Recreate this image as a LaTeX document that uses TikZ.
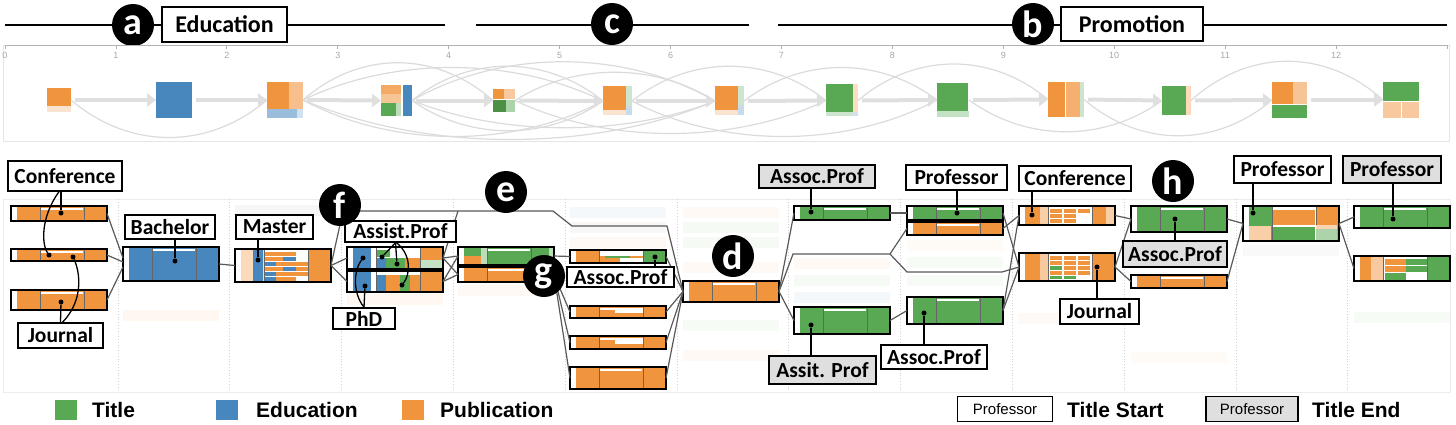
\documentclass[tikz,border=0pt]{standalone}
\usepackage{fontspec}
\newfontfamily\calfont{Carlito}
\newfontfamily\arialfont{Liberation Sans}
\usetikzlibrary{positioning, arrows.meta, calc}

\definecolor{tgreen}{RGB}{89,168,84}
\definecolor{tblue}{RGB}{72,135,190}
\definecolor{torange}{RGB}{241,148,62}

\tikzset{
  seqbox/.style={draw=black, line width=1.8pt, fill=white, minimum width=96pt, inner sep=0pt, outer sep=0pt, anchor=north west},
  seqframe/.style={draw=black, line width=1.8pt},
  seqline/.style={draw=black!60, line width=0.6pt},
  conn/.style={draw=black!65, line width=1.2pt},
  callout/.style={draw=black, line width=1.4pt, fill=white, inner sep=0pt, font=\calfont\bfseries\fontsize{21.5}{21.5}\selectfont},
  endcall/.style={callout, fill=gray!25},
  pointer/.style={draw=black, line width=1.3pt},
  dot/.style={circle, fill=black, inner sep=0pt, minimum size=5pt},
  letter/.style={circle, fill=black, text=white, minimum size=42pt, inner sep=0pt, font=\calfont\bfseries\fontsize{38}{38}\selectfont},
  ovbox/.style={inner sep=0pt, outer sep=0pt},
  ovarrow/.style={draw=gray!25, line width=4pt, shorten <=4pt, -{Triangle[length=9pt,width=13pt]}},
  ovcurve/.style={draw=gray!28, line width=1.2pt},
  ticklab/.style={font=\arialfont\fontsize{9}{9}\selectfont, text=gray!70},
  colsep/.style={draw=gray!35, dotted, line width=0.8pt},
  legtext/.style={anchor=west, inner sep=0pt, font=\arialfont\bfseries\fontsize{21}{21}\selectfont},
  legbox/.style={draw=black, line width=1.6pt, fill=white, inner sep=0pt, font=\arialfont\fontsize{15}{15}\selectfont},
}

% one row of the sequence view: name, x, y, height, left/middle/right colour
\newcommand{\seqnode}[7]{%
  \node[seqbox, minimum height=#4pt] (#1) at (#2,#3) {};
  \fill[#5] ([xshift=6pt]#1.north west) rectangle ([xshift=29pt]#1.south west);
  \fill[#6] ([xshift=29pt]#1.north west) rectangle ([xshift=-23pt]#1.south east);
  \fill[#7] ([xshift=-23pt]#1.north east) rectangle (#1.south east);
  \fill[white] ([xshift=30pt,yshift=-2pt]#1.north west) rectangle ([xshift=-24pt,yshift=-4pt]#1.north east);
  \draw[seqline] ([xshift=29pt]#1.north west) -- ([xshift=29pt]#1.south west)
                 ([xshift=-23pt]#1.north east) -- ([xshift=-23pt]#1.south east);
  \draw[seqframe] (#1.north west) rectangle (#1.south east);
}
\newcommand{\reframe}[1]{\draw[seqframe] (#1.north west) rectangle (#1.south east);}

\begin{document}
\begin{tikzpicture}[x=1pt, y=-1pt]
\useasboundingbox (0,0) rectangle (1456,424);

% top brackets
\coordinate (a0) at (5,25);    \coordinate (a1) at (445,25);
\coordinate (c0) at (476,25);  \coordinate (c1) at (749,25);
\coordinate (b0) at (778,25);  \coordinate (b1) at (1447,25);
\draw[line width=1.8pt] (a0) -- (a1) (c0) -- (c1) (b0) -- (b1);
\node[letter] (la) at (133,25) {a};
\node[callout, minimum width=125pt, minimum height=35pt, font=\calfont\bfseries\fontsize{24}{24}\selectfont] (edu) at (224.5,24.5) {Education};
\node[letter] (lc) at (612,24) {c};
\node[letter] (lb) at (1033,24) {b};
\node[callout, minimum width=142pt, minimum height=34pt, font=\calfont\bfseries\fontsize{24}{24}\selectfont] (promo) at (1132,24) {Promotion};

% time axis
\draw[gray!20, line width=1pt] (3,45) rectangle (1449,141);
\draw[gray!60, line width=1pt] (5,45) -- (1447,45);
\foreach \i in {0,...,13}
  \draw[gray!60, line width=0.8pt] (5+110.92*\i,45) -- ++(0,4);
\foreach \i in {0,...,12}
  \node[ticklab] at (5+110.92*\i,55) {\i};

% overview nodes
\node[ovbox, minimum width=24pt, minimum height=24pt] (ov1) at (59,100) {};
\fill[torange] (47,88) rectangle (71,106);
\fill[torange!25] (47,106) rectangle (71,112);
\node[ovbox, minimum width=36pt, minimum height=36pt] (ov2) at (174,100) {};
\fill[tblue] (156,82) rectangle (192,118);
\node[ovbox, minimum width=36pt, minimum height=36pt] (ov3) at (285,100) {};
\fill[torange] (267,82) rectangle (289,109);
\fill[torange!60] (289,82) rectangle (303,109);
\fill[tblue!55] (267,109) rectangle (297,118);
\fill[tblue!25] (297,109) rectangle (303,118);
\node[ovbox, minimum width=31pt, minimum height=31pt] (ov4) at (396.5,100.5) {};
\fill[torange!80] (381,85) rectangle (401,94);
\fill[torange!55] (381,94) rectangle (401,103);
\fill[tgreen] (381,103) rectangle (396,116);
\fill[tgreen!40] (396,103) rectangle (401,116);
\fill[tblue] (403,85) rectangle (412,116);
\node[ovbox, minimum width=22pt, minimum height=23pt] (ov5) at (504,100.5) {};
\fill[torange] (493,89) rectangle (504,99);
\fill[torange!50] (504,89) rectangle (515,99);
\fill[tgreen!85!black] (493,100) rectangle (506,112);
\fill[tgreen!50] (506,100) rectangle (515,112);
\node[ovbox, minimum width=29pt, minimum height=30pt] (ov6) at (617.5,101) {};
\fill[torange] (603,86) rectangle (626,110);
\fill[torange!25] (603,110) rectangle (626,115);
\fill[tgreen!30] (626,86) rectangle (632,106);
\fill[tblue!30] (626,106) rectangle (632,115);
\node[ovbox, minimum width=29pt, minimum height=30pt] (ov7) at (729.5,101) {};
\fill[torange] (715,86) rectangle (738,110);
\fill[torange!25] (715,110) rectangle (738,115);
\fill[tgreen!30] (738,86) rectangle (744,105);
\fill[tblue!30] (738,105) rectangle (744,115);
\node[ovbox, minimum width=32pt, minimum height=33pt] (ov8) at (842,100.5) {};
\fill[tgreen] (826,84) rectangle (853,112);
\fill[torange!30] (853,84) rectangle (858,112);
\fill[tgreen!30] (826,112) rectangle (853,116);
\fill[tblue!25] (853,112) rectangle (858,116);
\node[ovbox, minimum width=32pt, minimum height=34pt] (ov9) at (953,100) {};
\fill[tgreen] (937,83) rectangle (968,111);
\fill[tgreen!35] (937,111) rectangle (969,117);
\node[ovbox, minimum width=36pt, minimum height=35pt] (ov10) at (1066,99.5) {};
\fill[torange] (1048,82) rectangle (1065,117);
\fill[torange!75] (1065.5,82) rectangle (1080,117);
\fill[tgreen!30] (1080,82) rectangle (1084,117);
\node[ovbox, minimum width=29pt, minimum height=29pt] (ov11) at (1176.5,100.5) {};
\fill[tgreen] (1162,86) rectangle (1186,115);
\fill[torange!35] (1186,86) rectangle (1191,115);
\node[ovbox, minimum width=35pt, minimum height=36pt] (ov12) at (1289.5,100) {};
\fill[torange] (1272,82) rectangle (1293,104);
\fill[torange!55] (1293,82) rectangle (1307,104);
\fill[tgreen] (1272,105) rectangle (1307,118);
\node[ovbox, minimum width=36pt, minimum height=36pt] (ov13) at (1401,100) {};
\fill[tgreen] (1383,82) rectangle (1419,101);
\fill[torange!50] (1383,102) rectangle (1400.5,118);
\fill[torange!50] (1401.5,102) rectangle (1419,118);

% overview flows
\foreach \s/\t/\h in {1/3/50, 3/5/-50, 3/6/-44, 3/6/48, 3/7/52, 4/6/-46, 4/7/-52,
                      4/6/40, 4/7/36, 5/7/-38, 5/8/44, 6/8/-46, 6/9/48, 7/9/-44,
                      8/10/-48, 9/11/42, 10/12/48, 11/13/-52}
  \draw[ovcurve] (ov\s.east) .. controls ($(ov\s.east)!0.3!(ov\t.west)+(0,\h)$)
                             and ($(ov\s.east)!0.7!(ov\t.west)+(0,\h)$) .. (ov\t.west);
\foreach \i [evaluate=\i as \j using int(\i+1)] in {1,...,12}
  \draw[ovarrow] (ov\i.east) -- (ov\j.west);

% sequence view panel
\draw[gray!15, line width=1pt] (3,199) rectangle (1450,392);
\foreach \k in {0,...,11}
  \draw[colsep] (118+111.8*\k,199) -- (118+111.8*\k,392);

% faded rows
\foreach \x/\y/\c in {123/310/torange!7, 235/205/gray!7, 347/294/torange!7,
                      458/285/torange!6, 570/207/tblue!6, 570/222/gray!6, 570/237/torange!6,
                      683/207/torange!6, 683/222/tgreen!6, 683/237/tgreen!6, 683/262/torange!6,
                      683/320/tgreen!5, 683/350/torange!6, 794/258/torange!6, 794/275/tgreen!6,
                      794/292/tblue!6, 907/240/torange!5, 907/257/tgreen!5, 907/275/tgreen!5,
                      1019/313/torange!6, 1131/352/torange!5, 1243/245/gray!5, 1354/312/tgreen!5}
  \fill[\c] (\x,\y) rectangle ++(96,11);

% rows
\seqnode{jc1}{11}{206}{15}{torange}{torange}{torange}
\seqnode{jc2}{11}{249}{12}{torange}{torange}{torange}
\seqnode{jc3}{11}{290}{20}{torange}{torange}{torange}
\seqnode{bach}{123}{247}{34}{tblue}{tblue}{tblue}
\seqnode{mast}{235}{249}{33}{torange!35}{white}{torange}
\fill[tblue] (253,249.9) rectangle (263,281.1);
\fill[torange] (264.5,252) rectangle (296,256);
\fill[torange] (264.5,257) rectangle (283,261); \fill[tblue] (283,257) rectangle (296,261);
\fill[tblue] (264.5,262) rectangle (276,266);   \fill[torange] (276,262) rectangle (307.5,266);
\fill[torange] (264.5,267) rectangle (283,271); \fill[tblue] (283,267) rectangle (296,271); \fill[torange] (296,267) rectangle (307.5,271);
\fill[tblue] (264.5,272) rectangle (276,276);   \fill[torange] (276,272) rectangle (307.5,276);
\fill[tblue] (264.5,277) rectangle (276,281);   \fill[torange] (276,277) rectangle (296,281);
\reframe{mast}
\seqnode{ap1}{347}{247}{22}{tblue}{white}{torange}
\fill[white] (371,248) rectangle (375.5,268);
\fill[tgreen] (376.5,250) rectangle (390,257);
\fill[tblue] (376.5,258) rectangle (386,268);
\fill[tgreen] (386,258) rectangle (405,268);
\fill[torange] (405,258) rectangle (419.5,268);
\fill[tgreen!35] (420.5,260) rectangle (442,268);
\reframe{ap1}
\seqnode{ap2}{347}{271}{21}{tblue}{white}{torange}
\fill[white] (371,272) rectangle (375.5,291);
\fill[tblue] (376.5,275) rectangle (386,291);
\fill[torange] (386,275) rectangle (400,291);
\fill[tgreen] (400,275) rectangle (410,291);
\fill[torange] (410,275) rectangle (419.5,291);
\reframe{ap2}
\seqnode{sa}{458}{247}{18}{tgreen}{tgreen}{tgreen}
\fill[torange] (464,256) rectangle (481,265);
\fill[tgreen!40] (481,247) rectangle (486.5,265);
\fill[tgreen!40] (549,247) rectangle (553,265);
\reframe{sa}
\seqnode{sb}{458}{267}{15}{torange}{torange}{torange}
\seqnode{ga}{570}{250}{13}{torange}{torange}{tgreen}
\fill[white] (599.5,251) rectangle (642.5,256);
\fill[tgreen] (605,256) rectangle (630,258);
\fill[white] (620,258) rectangle (642.5,262);
\reframe{ga}
\seqnode{gb}{570}{306}{12}{torange}{torange}{torange}
\fill[white] (615,308) rectangle (642.5,313);
\reframe{gb}
\seqnode{gc}{570}{336}{13}{torange}{torange}{torange}
\fill[white] (615,338) rectangle (642.5,344);
\reframe{gc}
\seqnode{gd}{570}{367}{22}{torange}{torange}{torange}
\seqnode{dd}{683}{281}{21}{torange}{torange}{torange}
\seqnode{asc}{794}{206}{14}{tgreen}{tgreen}{tgreen}
\seqnode{ast}{794}{307}{27}{tgreen}{tgreen}{tgreen}
\seqnode{pa}{907}{206}{14}{tgreen}{tgreen}{tgreen}
\seqnode{pb}{907}{222}{13}{torange}{torange}{torange}
\seqnode{pc}{907}{297}{27}{tgreen}{tgreen}{tgreen}
\seqnode{cf}{1019}{206}{19}{torange}{white}{torange}
\fill[torange!45] (1040,207) rectangle (1047.5,224);
\foreach \y in {209,214,219} {
  \fill[torange] (1050,\y) rectangle (1062,\y+4);
  \fill[torange] (1064,\y) rectangle (1076,\y+4);
}
\fill[torange] (1078,209) rectangle (1090,213);
\fill[torange!45] (1106,207) rectangle (1114,224);
\reframe{cf}
\seqnode{jn}{1019}{253}{28}{torange}{white}{torange}
\fill[torange!50] (1040,254) rectangle (1047.5,280);
\foreach \y in {256,261,266,271} {
  \fill[torange] (1050,\y) rectangle (1062,\y+4);
  \fill[torange] (1064,\y) rectangle (1076,\y+4);
  \fill[torange] (1078,\y) rectangle (1090,\y+4);
}
\fill[tgreen] (1050,266) rectangle (1062,270);
\fill[tgreen] (1064,276) rectangle (1076,279);
\fill[tgreen] (1050,276) rectangle (1062,279);
\reframe{jn}
\seqnode{ha}{1131}{206}{26}{tgreen}{tgreen}{tgreen}
\seqnode{hb}{1131}{275}{13}{torange}{torange}{torange}
\seqnode{pr}{1243}{206}{35}{tgreen}{white}{torange}
\fill[torange!45] (1249,226) rectangle (1271,240);
\fill[torange] (1272.5,210) rectangle (1314.5,225);
\fill[tgreen] (1272.5,227) rectangle (1314.5,240);
\fill[torange!40] (1316,225) rectangle (1337,229);
\fill[tgreen!50] (1316,229) rectangle (1337,240);
\reframe{pr}
\seqnode{ea}{1354}{206}{22}{tgreen}{tgreen}{tgreen}
\seqnode{eb}{1354}{256}{25}{torange}{white}{tgreen}
\fill[torange!50] (1371,257) rectangle (1382.5,280);
\fill[torange] (1384.5,259) rectangle (1406,265); \fill[tgreen] (1406,259) rectangle (1426.5,265);
\fill[torange] (1384.5,266) rectangle (1406,272); \fill[tgreen] (1406,266) rectangle (1426.5,272);
\fill[tgreen] (1384.5,273) rectangle (1406,280);
\reframe{eb}

% links
\coordinate (split) at (890,254);
\draw[conn] (mast.east) -- (343,211) -- (553,211) -- (572,226) -- (667,226) -- (dd.west);
\draw[conn] (ap1.east) -- (458,211);
\draw[conn] (dd.east) -- (793,254) -- (split) -- (pb.west);
\draw[conn] (split) -- (907,272) -- (1002,272) -- (jn.west);
\draw[conn] (jc1.east) -- ([yshift=6pt]bach.west);
\draw[conn] (jc2.east) -- ([yshift=2pt]bach.west);
\draw[conn] (jc3.east) -- ([yshift=-3pt]bach.west);
\draw[conn] (bach.east) -- (mast.west);
\draw[conn] (mast.east) -- (ap1.west);
\draw[conn] (mast.east) -- (ap2.west);
\draw[conn] (ap1.east) -- (sa.west);
\draw[conn] (ap1.east) -- (sb.west);
\draw[conn] (ap2.east) -- (sa.west);
\draw[conn] (ap2.east) -- (sb.west);
\draw[conn] (sa.east) -- (ga.west);
\draw[conn] (sb.east) -- (gb.west);
\draw[conn] (sb.east) -- (gc.west);
\draw[conn] (sb.east) -- (gd.west);
\draw[conn] (ga.east) -- (dd.west);
\draw[conn] (gb.east) -- (dd.west);
\draw[conn] (gc.east) -- (dd.west);
\draw[conn] (gd.east) -- (dd.west);
\draw[conn] (dd.east) -- (asc.west);
\draw[conn] (dd.east) -- (ast.west);
\draw[conn] (asc.east) -- (pa.west);
\draw[conn] (ast.east) -- (pc.west);
\draw[conn] (pa.east) -- (jn.west);
\draw[conn] (pb.east) -- (cf.west);
\draw[conn] (pc.east) -- (cf.west);
\draw[conn] (pc.east) -- (jn.west);
\draw[conn] (cf.east) -- (ha.west);
\draw[conn] (jn.east) -- (ha.west);
\draw[conn] (jn.east) -- (hb.west);
\draw[conn] (ha.east) -- (pr.west);
\draw[conn] (hb.east) -- (pr.west);
\draw[conn] (pr.east) -- (ea.west);
\draw[conn] (pr.east) -- (eb.west);

% callouts
\node[callout, minimum width=114pt, minimum height=30pt] (conf0) at (65,176) {Conference};
\node[callout, minimum width=85pt, minimum height=25pt] (jour0) at (60.5,335.5) {Journal};
\node[callout, minimum width=90pt, minimum height=24pt] (bachc) at (170,227) {Bachelor};
\node[callout, minimum width=77pt, minimum height=24pt] (mastc) at (274.5,227) {Master};
\node[callout, minimum width=111pt, minimum height=21pt] (apc) at (400.5,231.5) {Assist.Prof};
\node[callout, minimum width=62pt, minimum height=21pt] (phdc) at (364,318.5) {PhD};
\node[callout, minimum width=107pt, minimum height=20pt] (asc5) at (620.5,277) {Assoc.Prof};
\node[endcall, minimum width=116pt, minimum height=23pt] (asc7) at (817,176.5) {Assoc.Prof};
\node[callout, minimum width=101pt, minimum height=25pt] (prof8) at (956.5,177.5) {Professor};
\node[endcall, minimum width=107pt, minimum height=28pt] (asst7) at (822.5,370) {Assit. Prof};
\node[callout, minimum width=106pt, minimum height=24pt] (asc8) at (934,357) {Assoc.Prof};
\node[callout, minimum width=112pt, minimum height=25pt] (conf9) at (1075,178.5) {Conference};
\node[callout, minimum width=79pt, minimum height=25pt] (jour9) at (1099.5,311.5) {Journal};
\node[endcall, minimum width=104pt, minimum height=26pt] (asc10) at (1175,254) {Assoc.Prof};
\node[callout, minimum width=97pt, minimum height=27pt] (prof11) at (1282.5,169.5) {Professor};
\node[endcall, minimum width=98pt, minimum height=27pt] (prof12) at (1392,169.5) {Professor};

% pointers
\node[dot] (dcf1) at (61,213) {};
\node[dot] (dcf2) at (49,255) {};
\node[dot] (djr1) at (73,257) {};
\node[dot] (djr2) at (61,302) {};
\node[dot] (dba) at (175,261) {};
\node[dot] (dma) at (258,260) {};
\node[dot] (das1) at (382,257) {};
\node[dot] (das2) at (397,264) {};
\node[dot] (das3) at (402,285) {};
\node[dot] (dph1) at (363,258) {};
\node[dot] (dph2) at (365,286) {};
\node[dot] (dga) at (655,257) {};
\node[dot] (dasc) at (811,212) {};
\node[dot] (dpa) at (957,213) {};
\node[dot] (dast) at (811,325) {};
\node[dot] (dpc) at (924,313) {};
\node[dot] (dcf) at (1032,215) {};
\node[dot] (djn) at (1097,267) {};
\node[dot] (dha) at (1175,219) {};
\node[dot] (dpr) at (1253,213) {};
\node[dot] (dea) at (1393,219) {};
\draw[pointer] ([xshift=-4pt]conf0.south) -- (dcf1);
\draw[pointer] ([xshift=-6pt]conf0.south) .. controls (40,218) and (42,245) .. (dcf2);
\draw[pointer] ([xshift=2pt]jour0.north) .. controls (84,300) and (80,272) .. (djr1);
\draw[pointer] ([xshift=0pt]jour0.north) -- (djr2);
\draw[pointer] (dba |- bachc.south) -- (dba);
\draw[pointer] (dma |- mastc.south) -- (dma);
\draw[pointer] ([xshift=-5pt]apc.south) -- (das1);
\draw[pointer] ([xshift=-5pt]apc.south) -- (das2);
\draw[pointer] ([xshift=-4pt]apc.south) .. controls (412,255) and (410,275) .. (das3);
\draw[pointer] (phdc.north) .. controls (352,292) and (354,270) .. (dph1);
\draw[pointer] (phdc.north) -- (dph2);
\draw[pointer] (dga |- asc5.north) -- (dga);
\draw[pointer] (dasc |- asc7.south) -- (dasc);
\draw[pointer] (dpa |- prof8.south) -- (dpa);
\draw[pointer] (dast |- asst7.north) -- (dast);
\draw[pointer] (dpc |- asc8.north) -- (dpc);
\draw[pointer] (dcf |- conf9.south) -- (dcf);
\draw[pointer] (djn |- jour9.north) -- (djn);
\draw[pointer] (dha |- asc10.north) -- (dha);
\draw[pointer] (dpr |- prof11.south) -- (dpr);
\draw[pointer] (dea |- prof12.south) -- (dea);

% markers
\node[letter] (lf) at (340,205) {f};
\node[letter] (le) at (506,192) {e};
\node[letter] (lg) at (544,276) {g};
\node[letter] (ld) at (733,256) {d};
\node[letter] (lh) at (1173,181) {h};

% legend
\fill[tgreen] (55,400) rectangle (77,420);
\node[legtext] (lt1) at (92,410) {Title};
\fill[tblue] (216,400) rectangle (238,420);
\node[legtext] (lt2) at (256,410) {Education};
\fill[torange] (402,400) rectangle (424,420);
\node[legtext] (lt3) at (440,410) {Publication};
\node[legbox, minimum width=95pt, minimum height=25pt] (lgs) at (1005,409) {Professor};
\node[legtext] (lt4) at (1067,410) {Title Start};
\node[legbox, fill=gray!25, minimum width=92pt, minimum height=25pt] (lge) at (1252,409) {Professor};
\node[legtext] (lt5) at (1312,410) {Title End};
\end{tikzpicture}
\end{document}
